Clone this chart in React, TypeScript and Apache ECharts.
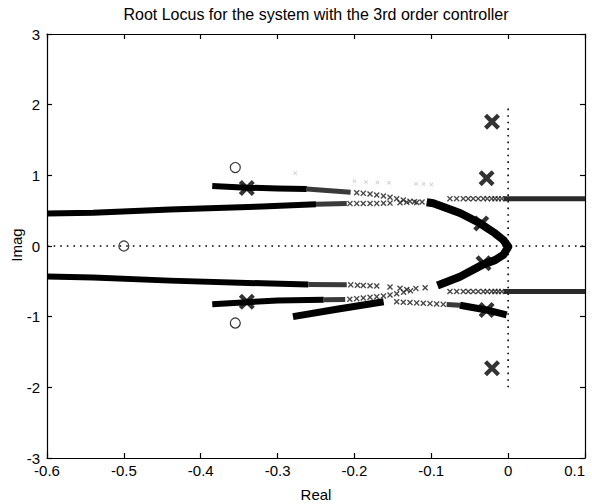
import React, { useEffect, useRef } from 'react';
import * as echarts from 'echarts';

// ---- axis ranges / ticks ----
const xRange = [-0.6, 0.1];
const xStep = 0.1;
const yRange = [-3, 3];
const yStep = 1;

// ---- open-loop zeros (circles) ----
const zerosData = [
  [-0.5, 0],
  [-0.355, 1.11],
  [-0.355, -1.09],
];

// ---- open-loop / closed-loop poles (bold crosses) ----
const polesData = [
  [-0.34, 0.82],
  [-0.34, -0.79],
  [-0.021, 1.76],
  [-0.021, -1.73],
  [-0.028, 0.96],
  [-0.035, 0.32],
  [-0.032, -0.245],
  [-0.028, -0.905],
];

// ---- dense (solid-looking) locus segments ----
const upperOuterThick = [[-0.6, 0.46], [-0.54, 0.47], [-0.44, 0.515], [-0.32, 0.56], [-0.25, 0.59]];
const upperOuterDense = [[-0.25, 0.59], [-0.21, 0.6]];
const upperInnerThick = [[-0.385, 0.85], [-0.34, 0.825], [-0.3, 0.815], [-0.262, 0.805]];
const upperInnerDense = [[-0.262, 0.805], [-0.205, 0.762]];
const lowerOuterThick = [[-0.6, -0.43], [-0.54, -0.445], [-0.44, -0.49], [-0.32, -0.528], [-0.26, -0.545]];
const lowerOuterDense = [[-0.26, -0.545], [-0.21, -0.55]];
const lowerInnerThick = [[-0.385, -0.825], [-0.34, -0.795], [-0.3, -0.77], [-0.24, -0.762]];
const lowerInnerDense = [[-0.24, -0.762], [-0.212, -0.757]];
const lowerRiseThick = [[-0.28, -1.0], [-0.223, -0.895], [-0.162, -0.788]];
const lowerRiseDense = [[-0.08, -0.828], [-0.0627, -0.838]];
const lowerRiseEnd = [[-0.0627, -0.838], [-0.028, -0.905], [-0.002, -0.976]];
const centralArc = [
  [-0.106, 0.618], [-0.0974, 0.604], [-0.0627, 0.467], [-0.0366, 0.321], [-0.0171, 0.18],
  [-0.0063, 0.085], [0.0002, -0.01], [-0.0063, -0.127], [-0.0171, -0.2], [-0.0324, -0.26],
  [-0.0627, -0.434], [-0.092, -0.56],
];
const upperRightBand = [[-0.006, 0.67], [0.1, 0.67]];
const lowerRightBand = [[-0.006, -0.645], [0.1, -0.645]];

// ---- sparse locus points (small crosses) ----
const upperOuterMarks = [
  [-0.2058, 0.6], [-0.197, 0.6], [-0.1885, 0.601], [-0.1797, 0.602], [-0.171, 0.603],
  [-0.1622, 0.605], [-0.1537, 0.607], [-0.1407, 0.612], [-0.132, 0.618], [-0.122, 0.625],
];
const upperInnerMarks = [
  [-0.197, 0.754], [-0.1885, 0.745], [-0.1797, 0.735], [-0.171, 0.721], [-0.1622, 0.707],
  [-0.1537, 0.689], [-0.145, 0.669], [-0.1364, 0.651], [-0.1277, 0.632], [-0.119, 0.615],
  [-0.112, 0.622],
];
const upperRightMarks = [
  [-0.0757, 0.67], [-0.067, 0.67], [-0.0584, 0.67], [-0.0519, 0.67], [-0.0454, 0.67],
  [-0.0389, 0.67], [-0.0323, 0.67], [-0.0271, 0.67], [-0.0215, 0.67], [-0.0171, 0.67],
  [-0.0128, 0.67], [-0.0084, 0.67],
];
const lowerRightMarks = [
  [-0.0757, -0.645], [-0.067, -0.645], [-0.0584, -0.645], [-0.0519, -0.645], [-0.0454, -0.645],
  [-0.0389, -0.645], [-0.0323, -0.645], [-0.0271, -0.645], [-0.0215, -0.645], [-0.0171, -0.645],
  [-0.0128, -0.645], [-0.0084, -0.645],
];
const lowerOuterMarks = [
  [-0.2048, -0.55], [-0.196, -0.555], [-0.1885, -0.558], [-0.1797, -0.562], [-0.171, -0.566],
  [-0.1537, -0.58], [-0.1407, -0.598], [-0.132, -0.615], [-0.12, -0.6], [-0.108, -0.59],
];
const lowerInnerMarks = [
  [-0.206, -0.754], [-0.197, -0.745], [-0.1885, -0.735], [-0.1797, -0.726], [-0.171, -0.717],
  [-0.1622, -0.707], [-0.1537, -0.693], [-0.145, -0.675], [-0.136, -0.655], [-0.127, -0.635],
];
const lowerRiseMarks = [
  [-0.145, -0.79], [-0.1364, -0.795], [-0.1277, -0.8], [-0.119, -0.805], [-0.1104, -0.81],
  [-0.1017, -0.815], [-0.093, -0.82], [-0.0844, -0.826],
];
const faintMarks = [
  [-0.277, 1.03], [-0.2, 0.915], [-0.185, 0.905], [-0.17, 0.9], [-0.155, 0.895],
  [-0.12, 0.88], [-0.11, 0.875], [-0.1, 0.87],
];

// ---- reference axes lines (dotted) ----
const realAxisLine = [[-0.6, 0], [0.1, 0]];
const imagAxisLine = [[0, -2], [0, 2]];

const titleText = 'Root Locus for the system with the 3rd order controller';
const xName = 'Real';
const yName = 'Imag';

const SMALL_X = 'path://M0,1.6L1.6,0L5,3.4L8.4,0L10,1.6L6.6,5L10,8.4L8.4,10L5,6.6L1.6,10L0,8.4L3.4,5Z';
const BOLD_X = 'path://M0,1.9L1.9,0L5,3.1L8.1,0L10,1.9L6.9,5L10,8.1L8.1,10L5,6.9L1.9,10L0,8.1L3.1,5Z';
const FONT = '"Liberation Sans", Arial, Helvetica, sans-serif';

function band(data: number[][], width: number, color: string, z = 3) {
  return {
    type: 'line',
    data,
    symbol: 'none',
    silent: true,
    z,
    lineStyle: { width, color, cap: 'butt', join: 'round' },
  };
}

function marks(data: number[][], size: number, color: string, symbol = SMALL_X, z = 4) {
  return {
    type: 'scatter',
    data,
    symbol,
    symbolSize: size,
    silent: true,
    z,
    itemStyle: { color },
  };
}

export default function App() {
  const ref = useRef<HTMLDivElement>(null);
  useEffect(() => {
    document.body.style.margin = '0';
    if (!ref.current) return;
    const chart = echarts.init(ref.current, null, { renderer: 'svg' });
    const axisLabel = { color: '#000', fontSize: 15, fontFamily: FONT };
    const commonX = {
      type: 'value',
      min: xRange[0],
      max: xRange[1],
      interval: xStep,
      splitLine: { show: false },
      axisLine: { onZero: false, lineStyle: { color: '#000', width: 1.2 } },
      axisTick: { inside: true, length: 5, lineStyle: { color: '#000', width: 1.2 } },
    };
    const commonY = {
      type: 'value',
      min: yRange[0],
      max: yRange[1],
      interval: yStep,
      splitLine: { show: false },
      axisLine: { onZero: false, lineStyle: { color: '#000', width: 1.2 } },
      axisTick: { inside: true, length: 5, lineStyle: { color: '#000', width: 1.2 } },
    };
    const dotted = (data: number[][]) => ({
      type: 'line',
      data,
      symbol: 'none',
      silent: true,
      z: 1,
      lineStyle: { color: '#000', width: 1.6, type: [1.6, 5] },
    });
    chart.setOption({
      animation: false,
      backgroundColor: '#fff',
      grid: { left: 47, right: 7, top: 34, bottom: 46, containLabel: false, outerBoundsMode: 'none' },
      xAxis: [
        {
          ...commonX,
          position: 'bottom',
          axisLabel: { ...axisLabel, margin: 5, alignMaxLabel: 'right' },
        },
        { ...commonX, position: 'top', axisLabel: { show: false } },
      ],
      yAxis: [
        { ...commonY, position: 'left', axisLabel: { ...axisLabel, margin: 7 } },
        { ...commonY, position: 'right', axisLabel: { show: false } },
      ],
      graphic: [
        {
          type: 'text',
          x: 316,
          y: 14,
          style: { text: titleText, fontSize: 16, fontFamily: FONT, fill: '#000', textAlign: 'center', textVerticalAlign: 'middle' },
        },
        {
          type: 'text',
          x: 316,
          y: 494,
          style: { text: xName, fontSize: 15, fontFamily: FONT, fill: '#000', textAlign: 'center', textVerticalAlign: 'middle' },
        },
        {
          type: 'text',
          x: 16,
          y: 245,
          rotation: Math.PI / 2,
          style: { text: yName, fontSize: 15, fontFamily: FONT, fill: '#000', textAlign: 'center', textVerticalAlign: 'middle' },
        },
      ],
      series: [
        dotted(realAxisLine),
        dotted(imagAxisLine),
        band(upperOuterThick, 6, '#000'),
        band(upperOuterDense, 5, '#3a3a3a'),
        band(upperInnerThick, 6, '#000'),
        band(upperInnerDense, 5, '#3a3a3a'),
        band(lowerOuterThick, 6, '#000'),
        band(lowerOuterDense, 5, '#3a3a3a'),
        band(lowerInnerThick, 6, '#000'),
        band(lowerInnerDense, 5, '#3a3a3a'),
        band(lowerRiseThick, 7, '#000'),
        band(lowerRiseDense, 5, '#3a3a3a'),
        band(lowerRiseEnd, 7, '#000'),
        band(centralArc, 8, '#000'),
        band(upperRightBand, 5, '#2a2a2a'),
        band(lowerRightBand, 5, '#2a2a2a'),
        marks(upperOuterMarks, 6, '#1a1a1a'),
        marks(upperInnerMarks, 6, '#1a1a1a'),
        marks(upperRightMarks, 6, '#1a1a1a'),
        marks(lowerRightMarks, 6, '#1a1a1a'),
        marks(lowerOuterMarks, 6, '#1a1a1a'),
        marks(lowerInnerMarks, 6, '#1a1a1a'),
        marks(lowerRiseMarks, 6, '#1a1a1a'),
        marks(faintMarks, 4, '#c4c4c4'),
        marks(polesData, 16, '#000', BOLD_X, 6),
        {
          type: 'scatter',
          data: zerosData,
          symbol: 'circle',
          symbolSize: 10,
          silent: true,
          z: 6,
          itemStyle: { color: 'rgba(0,0,0,0)', borderColor: '#000', borderWidth: 1.2 },
        },
      ],
    });
    return () => chart.dispose();
  }, []);
  return <div ref={ref} style={{ width: 592, height: 504 }} />;
}
